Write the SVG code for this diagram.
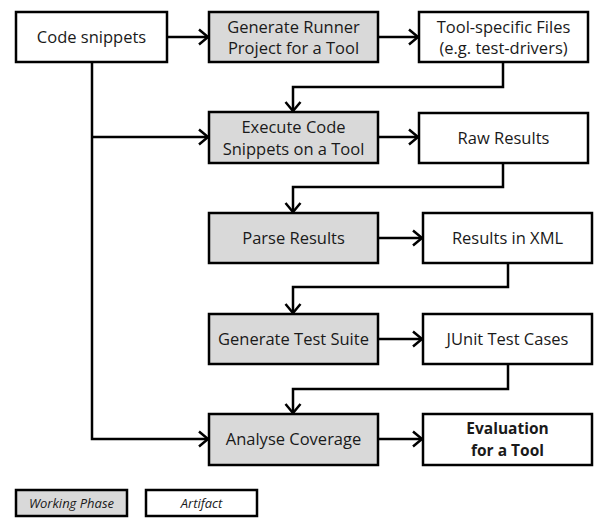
<svg xmlns="http://www.w3.org/2000/svg" width="596" height="519" viewBox="0 0 596 519">
<defs>
<marker id="arr" markerUnits="userSpaceOnUse" markerWidth="14" markerHeight="16" refX="10" refY="7" orient="auto" overflow="visible">
<path d="M1,-0.5 L10,7 L1,14.5" fill="none" stroke="#000" stroke-width="2.5"/>
</marker>
<style>
.phase rect{fill:#d9d9d9;stroke:#000;stroke-width:2.5}
.art rect{fill:#fff;stroke:#000;stroke-width:2.5}
text{font-family:"Open Sans","Liberation Sans",sans-serif;font-size:16.5px;fill:#1a1a1a;text-anchor:middle}
.b{font-weight:bold;font-size:15.5px}
.i{font-style:italic;font-size:13px}
#connectors path{fill:none;stroke:#000;stroke-width:2.5;marker-end:url(#arr)}
</style>
</defs>
<rect width="596" height="519" fill="#fff"/>
<g id="connectors">
<path d="M167,37 H208"/>
<path d="M378,37 H418"/>
<path d="M503,62 V87 H293 V111"/>
<path d="M92,62 V439 H208"/>
<path d="M92,137 H208"/>
<path d="M378,137 H418"/>
<path d="M503,163 V187 H293 V212"/>
<path d="M378,238 H422"/>
<path d="M508,263 V287 H293 V313"/>
<path d="M378,339 H422"/>
<path d="M508,364 V389 H293 V413"/>
<path d="M378,439 H422"/>
</g>
<g id="code" class="art"><rect x="16" y="12" width="151" height="50"/><text x="91.5" y="43">Code snippets</text></g>
<g id="genrunner" class="phase"><rect x="209" y="12" width="169" height="50"/><text x="293.5" y="33">Generate Runner</text><text x="293.5" y="54">Project for a Tool</text></g>
<g id="toolfiles" class="art"><rect x="419" y="12" width="169" height="50"/><text x="503.5" y="33">Tool-specific Files</text><text x="503.5" y="54">(e.g. test-drivers)</text></g>
<g id="execute" class="phase"><rect x="209" y="112" width="169" height="51"/><text x="293.5" y="133">Execute Code</text><text x="293.5" y="155">Snippets on a Tool</text></g>
<g id="raw" class="art"><rect x="419" y="113" width="169" height="50"/><text x="503.5" y="144">Raw Results</text></g>
<g id="parse" class="phase"><rect x="209" y="213" width="169" height="50"/><text x="293.5" y="244">Parse Results</text></g>
<g id="xml" class="art"><rect x="423" y="213" width="169" height="50"/><text x="507.5" y="244">Results in XML</text></g>
<g id="gensuite" class="phase"><rect x="209" y="314" width="169" height="50"/><text x="293.5" y="345">Generate Test Suite</text></g>
<g id="junit" class="art"><rect x="423" y="314" width="169" height="50"/><text x="507.5" y="345">JUnit Test Cases</text></g>
<g id="analyse" class="phase"><rect x="209" y="414" width="169" height="51"/><text x="293.5" y="445">Analyse Coverage</text></g>
<g id="evaluation" class="art"><rect x="423" y="414" width="169" height="51"/><text class="b" x="507.5" y="434">Evaluation</text><text class="b" x="507.5" y="456">for a Tool</text></g>
<g id="legend-phase" class="phase"><rect x="16" y="490" width="111" height="26"/><text class="i" x="71.5" y="508">Working Phase</text></g>
<g id="legend-artifact" class="art"><rect x="146" y="490" width="111" height="26"/><text class="i" x="201.5" y="508">Artifact</text></g>
</svg>
